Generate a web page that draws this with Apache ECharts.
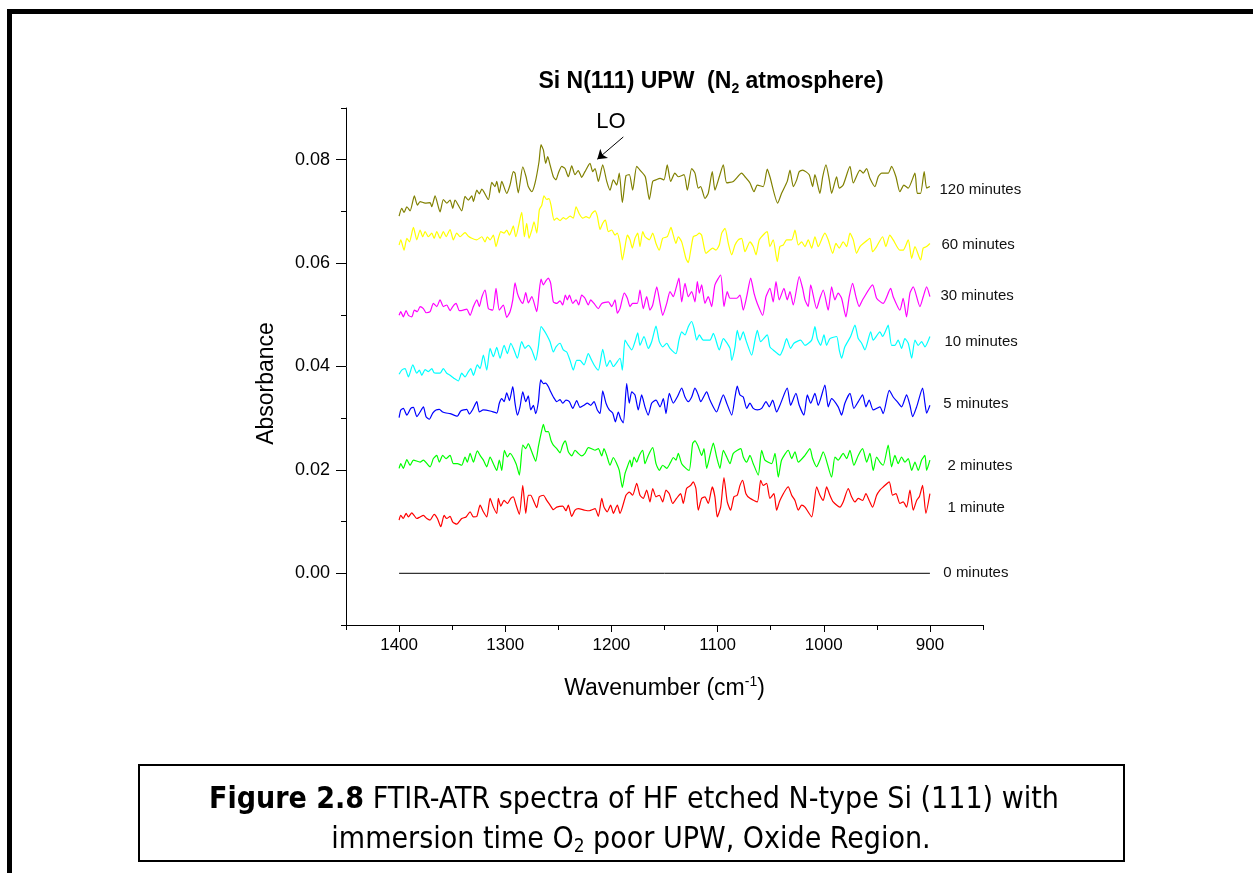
<!DOCTYPE html>
<html>
<head>
<meta charset="utf-8">
<script src="https://cdn.jsdelivr.net/npm/echarts@6/dist/echarts.min.js"></script>
<style>
html,body{margin:0;padding:0;background:#fff;}
#chart{width:1253px;height:873px;}
</style>
</head>
<body>
<div id="chart"></div>
<script>
// ---------- DATA ----------
const seriesNames = ['120 minutes','60 minutes','30 minutes','10 minutes','5 minutes','2 minutes','1 minute','0 minutes'];
const xTickLabels = [900,1000,1100,1200,1300,1400];
const yTickLabels = [0,0.02,0.04,0.06,0.08];

const s120 = [[1400,0.0691],[1397.5,0.0706],[1395.3,0.0698],[1392.7,0.0709],[1389.6,0.0701],[1385.6,0.0730],[1382.8,0.0712],[1380.2,0.0719],[1375.5,0.0716],[1370.8,0.0717],[1369.2,0.0709],[1366.1,0.0730],[1361.4,0.0699],[1358.3,0.0723],[1355.1,0.0716],[1352.0,0.0722],[1349.4,0.0706],[1347.3,0.0722],[1341.0,0.0701],[1337.9,0.0729],[1334.7,0.0722],[1331.5,0.0730],[1330.0,0.0719],[1326.8,0.0741],[1324.4,0.0734],[1322.1,0.0743],[1315.9,0.0723],[1312.7,0.0756],[1309.6,0.0748],[1308.0,0.0758],[1305.6,0.0736],[1303.3,0.0758],[1298.6,0.0735],[1295.5,0.0751],[1292.4,0.0777],[1290.8,0.0774],[1287.7,0.0736],[1283.5,0.0786],[1280.4,0.0767],[1278.3,0.0748],[1275.0,0.0738],[1271.9,0.0755],[1268.2,0.0796],[1266.3,0.0829],[1264.1,0.0819],[1261.9,0.0793],[1260.0,0.0806],[1257.8,0.0790],[1254.7,0.0767],[1252.2,0.0761],[1250.0,0.0774],[1246.8,0.0787],[1243.7,0.0783],[1240.6,0.0767],[1237.4,0.0788],[1234.3,0.0771],[1231.2,0.0779],[1228.0,0.0766],[1224.9,0.0777],[1220.2,0.0793],[1217.6,0.0777],[1215.4,0.0783],[1212.3,0.0758],[1208.2,0.0790],[1204.4,0.0758],[1201.3,0.0741],[1198.2,0.0761],[1195.0,0.0751],[1192.6,0.0774],[1189.7,0.0717],[1186.3,0.0769],[1183.1,0.0771],[1180.0,0.0741],[1176.2,0.0787],[1173.1,0.0780],[1168.1,0.0767],[1164.3,0.0723],[1161.1,0.0758],[1158.0,0.0761],[1154.2,0.0764],[1150.5,0.0761],[1147.4,0.0790],[1144.2,0.0758],[1140.2,0.0774],[1137.0,0.0767],[1131.6,0.0771],[1128.5,0.0741],[1124.4,0.0783],[1121.3,0.0774],[1118.2,0.0745],[1115.9,0.0748],[1111.9,0.0725],[1108.8,0.0735],[1105.0,0.0777],[1102.5,0.0741],[1098.4,0.0767],[1094.6,0.0790],[1091.4,0.0755],[1085.2,0.0758],[1077.3,0.0774],[1074.2,0.0767],[1069.5,0.0755],[1065.7,0.0738],[1062.6,0.0751],[1057.0,0.0748],[1053.2,0.0782],[1050.7,0.0767],[1043.4,0.0716],[1039.7,0.0735],[1034.4,0.0758],[1031.8,0.0780],[1028.7,0.0748],[1025.5,0.0761],[1023.1,0.0777],[1019.9,0.0780],[1013.7,0.0771],[1010.5,0.0748],[1008.3,0.0771],[1003.6,0.0735],[1001.0,0.0767],[997.9,0.0790],[994.8,0.0761],[992.6,0.0735],[987.9,0.0767],[985.4,0.0745],[981.7,0.0751],[975.3,0.0787],[972.2,0.0755],[965.9,0.0780],[962.8,0.0774],[959.6,0.0783],[956.5,0.0764],[951.8,0.0748],[948.7,0.0767],[945.5,0.0774],[939.3,0.0774],[936.1,0.0787],[932.0,0.0767],[928.3,0.0738],[924.5,0.0751],[920.4,0.0745],[914.1,0.0774],[911.9,0.0735],[908.8,0.0735],[905.4,0.0777],[903.1,0.0745],[900,0.0748]];

const s60 = [[1400,0.0635],[1398.4,0.0645],[1395.3,0.0625],[1392.7,0.0648],[1390.3,0.0641],[1386.5,0.0669],[1383.3,0.0645],[1380.2,0.0664],[1377.7,0.0651],[1375.5,0.0661],[1372.4,0.0651],[1369.2,0.0658],[1367.0,0.0648],[1364.5,0.0661],[1361.4,0.0648],[1358.3,0.0661],[1355.7,0.0651],[1352.0,0.0665],[1348.9,0.0645],[1345.7,0.0658],[1342.6,0.0651],[1337.9,0.0659],[1334.7,0.0652],[1331.5,0.0648],[1326.8,0.0645],[1322.1,0.0651],[1319.0,0.0641],[1316.9,0.0651],[1314.3,0.0645],[1311.2,0.0654],[1308.7,0.0632],[1306.5,0.0648],[1304.2,0.0661],[1301.1,0.0658],[1298.6,0.0664],[1296.1,0.0654],[1293.9,0.0664],[1292.4,0.0672],[1290.1,0.0651],[1284.5,0.0698],[1282.0,0.0651],[1279.8,0.0677],[1277.6,0.0648],[1275.0,0.0664],[1272.9,0.0680],[1270.3,0.0658],[1267.9,0.0703],[1265.6,0.0712],[1263.5,0.0730],[1260.9,0.0723],[1258.8,0.0725],[1256.9,0.0712],[1254.0,0.0683],[1251.5,0.0687],[1248.4,0.0682],[1245.3,0.0688],[1242.8,0.0685],[1239.0,0.0691],[1235.9,0.0687],[1233.3,0.0709],[1230.2,0.0695],[1227.0,0.0687],[1223.9,0.0690],[1220.8,0.0687],[1218.6,0.0695],[1215.4,0.0701],[1213.3,0.0691],[1210.7,0.0665],[1208.2,0.0677],[1205.7,0.0683],[1202.9,0.0661],[1199.7,0.0664],[1196.6,0.0654],[1194.5,0.0658],[1191.9,0.0638],[1189.7,0.0606],[1187.2,0.0632],[1185.0,0.0654],[1182.5,0.0645],[1180.3,0.0629],[1177.8,0.0648],[1175.2,0.0658],[1173.1,0.0632],[1170.5,0.0661],[1168.4,0.0651],[1164.3,0.0645],[1161.1,0.0658],[1158.0,0.0638],[1154.9,0.0625],[1151.7,0.0648],[1147.4,0.0651],[1143.9,0.0669],[1141.7,0.0654],[1139.2,0.0638],[1137.0,0.0651],[1133.8,0.0641],[1129.8,0.0609],[1127.6,0.0601],[1125.3,0.0625],[1122.9,0.0651],[1119.7,0.0654],[1117.2,0.0658],[1115.0,0.0654],[1112.8,0.0632],[1110.9,0.0619],[1104.6,0.0629],[1101.5,0.0625],[1098.4,0.0635],[1096.1,0.0658],[1093.0,0.0667],[1089.9,0.0638],[1086.7,0.0616],[1083.6,0.0635],[1080.5,0.0645],[1077.3,0.0648],[1074.2,0.0622],[1069.5,0.0641],[1066.4,0.0632],[1063.8,0.0616],[1060.7,0.0645],[1055.4,0.0658],[1053.2,0.0661],[1050.7,0.0632],[1047.6,0.0645],[1043.8,0.0603],[1041.3,0.0632],[1038.1,0.0635],[1035.0,0.0645],[1030.2,0.0645],[1027.1,0.0664],[1024.0,0.0635],[1020.8,0.0641],[1017.7,0.0632],[1014.6,0.0645],[1011.4,0.0629],[1008.3,0.0651],[1005.2,0.0632],[1001.0,0.0651],[998.9,0.0658],[995.8,0.0645],[991.6,0.0619],[988.5,0.0638],[985.4,0.0629],[981.7,0.0641],[978.4,0.0632],[975.3,0.0658],[972.2,0.0645],[969.1,0.0619],[965.9,0.0632],[962.8,0.0638],[956.5,0.0648],[954.0,0.0622],[950.2,0.0632],[944.6,0.0651],[941.5,0.0632],[937.8,0.0654],[934.6,0.0645],[928.3,0.0625],[925.2,0.0625],[920.4,0.0645],[917.2,0.0609],[914.1,0.0632],[908.8,0.0606],[906.3,0.0629],[903.1,0.0632],[900,0.0638]];

const s30 = [[1400,0.0499],[1398.4,0.0506],[1396.0,0.0496],[1393.4,0.0508],[1391.2,0.0499],[1388.0,0.0496],[1385.6,0.0509],[1382.8,0.0506],[1380.2,0.0516],[1377.1,0.0512],[1374.6,0.0504],[1370.8,0.0506],[1367.7,0.0522],[1364.5,0.0516],[1361.4,0.0529],[1358.3,0.0516],[1355.1,0.0519],[1352.0,0.0508],[1349.4,0.0516],[1346.3,0.0522],[1343.2,0.0508],[1339.5,0.0509],[1336.3,0.0511],[1333.1,0.0499],[1330.0,0.0516],[1326.8,0.0529],[1324.4,0.0516],[1322.1,0.0534],[1319.0,0.0548],[1315.9,0.0512],[1311.8,0.0509],[1308.7,0.0551],[1305.6,0.0509],[1301.8,0.0519],[1298.6,0.0495],[1295.5,0.0506],[1292.9,0.0529],[1290.8,0.0562],[1288.6,0.0542],[1286.1,0.0529],[1283.5,0.0522],[1280.7,0.0543],[1278.3,0.0523],[1275.0,0.0535],[1270.3,0.0506],[1268.2,0.0542],[1266.3,0.0569],[1264.1,0.0558],[1261.6,0.0566],[1259.4,0.0571],[1257.2,0.0561],[1254.7,0.0525],[1251.5,0.0522],[1248.4,0.0527],[1245.9,0.0519],[1243.4,0.0538],[1241.5,0.0529],[1239.6,0.0538],[1236.4,0.0522],[1233.3,0.0529],[1230.8,0.0519],[1228.0,0.0538],[1224.9,0.0532],[1221.8,0.0519],[1219.5,0.0529],[1216.4,0.0522],[1212.3,0.0512],[1209.1,0.0522],[1202.9,0.0525],[1199.7,0.0516],[1196.6,0.0529],[1194.4,0.0503],[1191.9,0.0512],[1187.9,0.0542],[1185.0,0.0532],[1182.5,0.0516],[1180.0,0.0522],[1175.6,0.0522],[1173.1,0.0548],[1170.0,0.0512],[1166.8,0.0535],[1163.7,0.0509],[1161.1,0.0519],[1157.3,0.0554],[1154.2,0.0522],[1151.7,0.0499],[1147.9,0.0522],[1144.8,0.0545],[1141.7,0.0535],[1139.2,0.0551],[1136.4,0.0571],[1133.8,0.0525],[1130.7,0.0561],[1127.6,0.0535],[1124.4,0.0545],[1121.3,0.0525],[1119.1,0.0564],[1117.2,0.0542],[1115.0,0.0558],[1111.9,0.0522],[1108.8,0.0535],[1105.6,0.0516],[1102.5,0.0558],[1097.1,0.0577],[1094.0,0.0516],[1090.9,0.0545],[1088.3,0.0532],[1082.0,0.0532],[1078.9,0.0538],[1075.8,0.0509],[1072.6,0.0535],[1068.8,0.0571],[1065.7,0.0542],[1062.6,0.0522],[1057.5,0.0499],[1054.4,0.0535],[1050.7,0.0551],[1047.6,0.0525],[1045.0,0.0564],[1041.9,0.0529],[1037.5,0.0551],[1034.4,0.0529],[1031.8,0.0545],[1028.7,0.0519],[1023.1,0.0574],[1019.9,0.0551],[1017.7,0.0529],[1014.6,0.0516],[1012.3,0.0558],[1006.7,0.0512],[1003.6,0.0532],[1000.5,0.0548],[995.8,0.0509],[992.6,0.0554],[989.5,0.0529],[986.4,0.0542],[983.2,0.0532],[979.1,0.0496],[976.0,0.0535],[972.8,0.0561],[969.7,0.0535],[966.6,0.0516],[963.4,0.0529],[954.0,0.0558],[950.2,0.0532],[944.0,0.0522],[937.0,0.0551],[934.6,0.0535],[928.3,0.0509],[925.2,0.0532],[922.0,0.0496],[918.8,0.0542],[915.7,0.0554],[909.4,0.0516],[906.3,0.0535],[903.1,0.0554],[900,0.0535]];

const s10 = [[1400,0.0385],[1397.5,0.0393],[1394.4,0.0396],[1391.2,0.0380],[1387.1,0.0403],[1383.3,0.0387],[1380.9,0.0393],[1378.6,0.0383],[1375.5,0.0394],[1372.4,0.0390],[1369.2,0.0396],[1367.0,0.0388],[1361.4,0.0387],[1358.3,0.0396],[1355.1,0.0387],[1352.0,0.0383],[1348.2,0.0377],[1344.2,0.0372],[1341.0,0.0387],[1337.9,0.0380],[1334.7,0.0390],[1332.5,0.0396],[1330.0,0.0383],[1326.3,0.0403],[1323.7,0.0396],[1320.6,0.0422],[1317.4,0.0393],[1314.3,0.0435],[1311.2,0.0419],[1308.0,0.0437],[1304.9,0.0416],[1301.1,0.0441],[1298.0,0.0425],[1294.8,0.0445],[1291.7,0.0432],[1288.6,0.0416],[1284.5,0.0448],[1281.4,0.0435],[1278.3,0.0441],[1275.0,0.0432],[1271.3,0.0412],[1268.8,0.0438],[1266.3,0.0477],[1263.5,0.0470],[1260.9,0.0461],[1257.8,0.0448],[1254.7,0.0428],[1252.2,0.0438],[1248.4,0.0445],[1245.3,0.0432],[1242.1,0.0428],[1239.0,0.0412],[1235.9,0.0393],[1232.7,0.0412],[1229.6,0.0412],[1225.8,0.0403],[1221.8,0.0425],[1218.6,0.0412],[1215.4,0.0400],[1212.3,0.0393],[1208.2,0.0433],[1204.4,0.0400],[1201.3,0.0412],[1198.2,0.0400],[1191.9,0.0416],[1189.7,0.0393],[1187.2,0.0451],[1184.1,0.0441],[1180.9,0.0432],[1177.8,0.0448],[1175.2,0.0465],[1173.1,0.0441],[1169.3,0.0458],[1165.3,0.0435],[1162.1,0.0448],[1158.0,0.0478],[1154.9,0.0448],[1151.7,0.0438],[1147.9,0.0445],[1144.8,0.0435],[1139.2,0.0425],[1136.4,0.0451],[1133.8,0.0467],[1130.7,0.0461],[1127.6,0.0477],[1124.4,0.0487],[1122.2,0.0474],[1119.7,0.0451],[1117.2,0.0461],[1113.5,0.0451],[1107.2,0.0451],[1104.0,0.0464],[1098.4,0.0432],[1094.6,0.0454],[1088.3,0.0435],[1086.7,0.0412],[1083.6,0.0438],[1081.5,0.0470],[1078.9,0.0451],[1075.8,0.0467],[1073.3,0.0451],[1067.9,0.0422],[1064.8,0.0451],[1062.6,0.0470],[1059.4,0.0448],[1053.2,0.0461],[1050.7,0.0438],[1047.6,0.0432],[1041.3,0.0422],[1038.1,0.0435],[1035.0,0.0454],[1031.2,0.0435],[1028.1,0.0445],[1021.8,0.0451],[1017.7,0.0441],[1011.4,0.0451],[1008.3,0.0477],[1006.1,0.0454],[1002.9,0.0441],[999.8,0.0461],[997.3,0.0441],[994.2,0.0454],[987.9,0.0458],[985.4,0.0432],[983.2,0.0416],[980.1,0.0438],[974.7,0.0458],[970.6,0.0480],[967.5,0.0454],[964.3,0.0445],[961.2,0.0432],[955.8,0.0467],[953.4,0.0451],[947.1,0.0467],[944.6,0.0458],[941.5,0.0470],[939.3,0.0480],[936.1,0.0441],[933.0,0.0441],[929.9,0.0451],[926.7,0.0435],[923.6,0.0454],[920.4,0.0445],[917.2,0.0416],[914.1,0.0451],[911.0,0.0441],[907.8,0.0448],[904.7,0.0438],[900,0.0458]];

const s5 = [[1400,0.0301],[1398.4,0.0316],[1396.0,0.0319],[1392.7,0.0306],[1389.0,0.0319],[1386.5,0.0321],[1383.3,0.0303],[1380.2,0.0312],[1377.1,0.0322],[1374.6,0.0303],[1371.5,0.0298],[1368.3,0.0310],[1365.2,0.0316],[1362.1,0.0317],[1358.9,0.0312],[1355.7,0.0310],[1352.0,0.0309],[1345.1,0.0304],[1341.9,0.0314],[1336.3,0.0317],[1333.8,0.0308],[1330.6,0.0317],[1326.8,0.0332],[1324.4,0.0312],[1320.6,0.0316],[1314.3,0.0314],[1308.0,0.0310],[1305.6,0.0329],[1303.3,0.0338],[1301.1,0.0332],[1298.6,0.0349],[1296.1,0.0334],[1292.9,0.0361],[1290.8,0.0329],[1288.6,0.0306],[1286.1,0.0322],[1283.5,0.0351],[1280.7,0.0332],[1278.3,0.0343],[1276.0,0.0316],[1273.5,0.0325],[1271.3,0.0309],[1268.8,0.0332],[1266.6,0.0374],[1264.1,0.0367],[1261.9,0.0368],[1259.4,0.0361],[1257.2,0.0351],[1254.7,0.0341],[1251.5,0.0332],[1248.4,0.0336],[1245.9,0.0329],[1242.8,0.0335],[1239.6,0.0332],[1236.4,0.0319],[1232.7,0.0334],[1229.6,0.0321],[1225.8,0.0325],[1222.7,0.0329],[1219.5,0.0325],[1216.4,0.0332],[1213.3,0.0316],[1210.7,0.0309],[1208.2,0.0353],[1205.1,0.0329],[1202.0,0.0316],[1198.8,0.0310],[1196.3,0.0293],[1193.5,0.0312],[1191.3,0.0299],[1188.8,0.0291],[1185.6,0.0367],[1183.2,0.0329],[1180.9,0.0351],[1177.8,0.0345],[1174.7,0.0316],[1171.5,0.0345],[1168.4,0.0322],[1165.3,0.0306],[1162.1,0.0329],[1158.0,0.0335],[1154.2,0.0322],[1151.1,0.0338],[1148.6,0.0309],[1145.5,0.0348],[1141.7,0.0329],[1138.0,0.0341],[1133.8,0.0358],[1130.7,0.0341],[1127.6,0.0332],[1124.4,0.0341],[1121.3,0.0358],[1118.2,0.0345],[1115.9,0.0332],[1110.3,0.0351],[1107.2,0.0335],[1100.9,0.0312],[1097.8,0.0329],[1094.6,0.0345],[1091.4,0.0329],[1086.7,0.0306],[1083.6,0.0341],[1081.5,0.0362],[1078.9,0.0345],[1075.8,0.0341],[1072.6,0.0319],[1069.5,0.0329],[1066.4,0.0319],[1062.6,0.0316],[1058.5,0.0319],[1054.4,0.0332],[1051.3,0.0322],[1048.1,0.0335],[1044.4,0.0312],[1041.3,0.0325],[1034.4,0.0358],[1031.2,0.0325],[1026.2,0.0348],[1023.1,0.0325],[1018.7,0.0306],[1015.5,0.0345],[1012.3,0.0329],[1008.3,0.0348],[1005.2,0.0325],[998.9,0.0364],[995.8,0.0322],[992.6,0.0338],[986.4,0.0322],[983.2,0.0306],[980.1,0.0329],[975.3,0.0348],[971.6,0.0319],[967.5,0.0332],[963.4,0.0345],[960.3,0.0322],[957.2,0.0335],[953.4,0.0316],[947.1,0.0322],[944.0,0.0309],[938.3,0.0354],[934.6,0.0341],[930.8,0.0332],[926.7,0.0322],[922.0,0.0345],[918.8,0.0325],[916.3,0.0303],[912.5,0.0322],[906.9,0.0358],[904.7,0.0329],[903.1,0.0310],[900,0.0325]];

const s2 = [[1400,0.0203],[1398.4,0.0212],[1396.0,0.0203],[1392.7,0.0220],[1389.6,0.0209],[1386.5,0.0219],[1380.2,0.0215],[1377.1,0.0219],[1370.8,0.0206],[1367.7,0.0222],[1364.5,0.0228],[1362.1,0.0215],[1358.9,0.0228],[1355.7,0.0222],[1352.0,0.0228],[1348.9,0.0212],[1345.1,0.0212],[1341.0,0.0209],[1337.9,0.0225],[1335.7,0.0215],[1333.1,0.0232],[1330.0,0.0215],[1326.3,0.0237],[1323.7,0.0228],[1320.6,0.0219],[1317.4,0.0206],[1314.3,0.0225],[1311.2,0.0212],[1308.0,0.0199],[1305.6,0.0219],[1303.3,0.0199],[1300.8,0.0238],[1298.0,0.0225],[1295.5,0.0232],[1289.8,0.0212],[1286.7,0.0190],[1283.5,0.0248],[1280.7,0.0241],[1278.3,0.0251],[1275.0,0.0235],[1271.3,0.0217],[1268.8,0.0245],[1266.3,0.0270],[1264.1,0.0288],[1261.9,0.0274],[1259.4,0.0274],[1256.9,0.0257],[1254.7,0.0248],[1251.5,0.0241],[1248.4,0.0233],[1245.9,0.0248],[1243.4,0.0256],[1240.6,0.0235],[1237.4,0.0227],[1234.3,0.0238],[1231.2,0.0232],[1228.0,0.0227],[1224.9,0.0232],[1221.8,0.0243],[1218.6,0.0241],[1215.4,0.0238],[1212.3,0.0241],[1209.1,0.0227],[1207.0,0.0241],[1204.4,0.0228],[1201.3,0.0209],[1198.2,0.0224],[1195.0,0.0212],[1192.6,0.0199],[1189.7,0.0166],[1187.2,0.0193],[1185.0,0.0206],[1182.5,0.0219],[1180.9,0.0206],[1178.7,0.0225],[1176.2,0.0215],[1173.7,0.0228],[1170.5,0.0238],[1168.4,0.0212],[1165.3,0.0228],[1161.1,0.0243],[1158.0,0.0212],[1154.9,0.0199],[1151.7,0.0209],[1147.9,0.0203],[1144.2,0.0215],[1141.7,0.0224],[1139.2,0.0219],[1137.0,0.0232],[1133.8,0.0212],[1129.8,0.0203],[1126.7,0.0199],[1123.5,0.0251],[1121.3,0.0256],[1118.2,0.0245],[1115.0,0.0228],[1112.8,0.0241],[1110.3,0.0203],[1107.2,0.0228],[1104.0,0.0252],[1100.9,0.0225],[1097.8,0.0203],[1094.6,0.0238],[1091.4,0.0225],[1088.3,0.0212],[1085.2,0.0232],[1078.2,0.0241],[1075.8,0.0225],[1072.6,0.0215],[1069.5,0.0228],[1066.4,0.0212],[1061.7,0.0190],[1058.5,0.0238],[1055.4,0.0219],[1049.1,0.0212],[1045.9,0.0232],[1042.8,0.0186],[1039.7,0.0219],[1033.4,0.0238],[1030.2,0.0222],[1027.1,0.0235],[1024.0,0.0215],[1017.7,0.0228],[1013.0,0.0241],[1010.5,0.0222],[1006.7,0.0206],[1003.6,0.0219],[1000.5,0.0235],[992.6,0.0186],[989.5,0.0225],[986.4,0.0219],[981.7,0.0232],[978.4,0.0222],[975.3,0.0238],[971.6,0.0209],[967.5,0.0228],[963.4,0.0241],[959.6,0.0215],[956.5,0.0232],[953.4,0.0199],[950.2,0.0225],[947.1,0.0215],[944.0,0.0209],[939.3,0.0248],[936.1,0.0206],[933.0,0.0228],[929.9,0.0212],[926.7,0.0225],[923.6,0.0215],[920.4,0.0222],[917.2,0.0199],[914.1,0.0215],[911.0,0.0199],[907.8,0.0219],[904.7,0.0228],[903.1,0.0199],[900,0.0219]];

const s1 = [[1400,0.0103],[1398.4,0.0112],[1396.0,0.0106],[1393.4,0.0116],[1391.2,0.0109],[1388.0,0.0117],[1385.9,0.0112],[1383.3,0.0106],[1380.2,0.0109],[1377.1,0.0112],[1373.9,0.0106],[1370.8,0.0103],[1367.0,0.0114],[1363.9,0.0106],[1360.7,0.0090],[1357.6,0.0112],[1355.1,0.0106],[1352.0,0.0110],[1349.4,0.0099],[1345.7,0.0095],[1341.0,0.0106],[1336.9,0.0109],[1333.1,0.0119],[1330.0,0.0109],[1326.8,0.0110],[1323.7,0.0132],[1320.6,0.0119],[1317.4,0.0109],[1314.3,0.0145],[1311.2,0.0128],[1308.0,0.0116],[1306.5,0.0145],[1304.2,0.0130],[1301.1,0.0141],[1298.0,0.0135],[1294.8,0.0145],[1292.4,0.0148],[1289.8,0.0132],[1286.7,0.0114],[1283.5,0.0170],[1280.7,0.0116],[1278.3,0.0151],[1276.0,0.0151],[1273.5,0.0141],[1270.3,0.0127],[1267.9,0.0148],[1264.1,0.0151],[1260.9,0.0141],[1257.8,0.0132],[1254.7,0.0123],[1251.5,0.0128],[1245.9,0.0130],[1242.8,0.0121],[1240.6,0.0132],[1237.4,0.0110],[1234.3,0.0122],[1231.2,0.0125],[1224.9,0.0122],[1220.8,0.0121],[1215.4,0.0125],[1212.3,0.0110],[1209.1,0.0145],[1207.0,0.0128],[1203.9,0.0119],[1200.7,0.0132],[1198.2,0.0116],[1194.4,0.0132],[1191.9,0.0116],[1186.3,0.0151],[1183.1,0.0157],[1180.0,0.0151],[1176.2,0.0174],[1173.1,0.0151],[1170.0,0.0145],[1166.8,0.0161],[1163.7,0.0138],[1161.1,0.0164],[1158.0,0.0148],[1154.9,0.0151],[1151.7,0.0138],[1148.6,0.0161],[1145.5,0.0154],[1142.3,0.0135],[1138.6,0.0145],[1134.8,0.0154],[1132.3,0.0135],[1129.2,0.0164],[1125.3,0.0170],[1122.9,0.0177],[1120.4,0.0164],[1118.2,0.0122],[1115.0,0.0145],[1111.9,0.0148],[1108.8,0.0135],[1105.0,0.0167],[1102.5,0.0148],[1100.3,0.0109],[1097.1,0.0128],[1094.0,0.0185],[1090.9,0.0138],[1087.7,0.0122],[1084.6,0.0148],[1081.5,0.0151],[1078.9,0.0170],[1076.4,0.0180],[1073.3,0.0154],[1069.5,0.0145],[1062.6,0.0138],[1059.4,0.0180],[1057.0,0.0170],[1053.8,0.0174],[1050.7,0.0145],[1046.9,0.0154],[1044.4,0.0122],[1041.3,0.0141],[1033.4,0.0167],[1030.2,0.0151],[1027.1,0.0141],[1024.0,0.0122],[1020.8,0.0132],[1017.7,0.0128],[1011.4,0.0109],[1006.7,0.0167],[1003.6,0.0151],[1000.5,0.0141],[997.3,0.0167],[994.2,0.0151],[991.1,0.0138],[984.8,0.0128],[981.7,0.0138],[976.9,0.0164],[973.8,0.0148],[970.6,0.0138],[967.5,0.0145],[963.4,0.0141],[960.3,0.0154],[957.2,0.0141],[954.0,0.0128],[950.2,0.0151],[947.1,0.0161],[944.0,0.0167],[938.3,0.0177],[935.2,0.0151],[932.0,0.0154],[928.3,0.0135],[925.2,0.0138],[922.0,0.0128],[918.8,0.0161],[915.7,0.0122],[912.5,0.0141],[910.0,0.0148],[906.9,0.0170],[903.8,0.0116],[900,0.0154]];

const s0 = [[1400,0],[900,0]];

// label anchors (data space) for the series names and the LO annotation
const nameAnchors = [[891.5,0.0742],[889.6,0.0635],[890.6,0.0536],[886.8,0.0447],[887.8,0.0327],[884.0,0.0207],[884.0,0.0126],[887.8,0]];
const loText = [1200.4,0.0873];
const loArrow = [[1188.8,0.0844],[1213.3,0.0801]];

// ---------- CHART ----------
const FONT = '"Liberation Sans", Arial, sans-serif';
const CAPFONT = '"DejaVu Sans Condensed","DejaVu Sans",sans-serif';
const colors = ['#808000','#FFFF00','#FF00FF','#00FFFF','#0000FF','#00FF00','#FF0000','#000000'];
const allData = [s120,s60,s30,s10,s5,s2,s1,s0];

const chart = echarts.init(document.getElementById('chart'), null, {renderer:'canvas'});

const series = allData.map((d,i)=>{
  const mpData = [{
    coord: nameAnchors[i],
    label:{show:true, formatter: seriesNames[i], position:'right', distance:0,
      color:'#111', fontSize:15, fontFamily:FONT}
  }];
  const s = {
    type:'line', name: seriesNames[i], data:d, xAxisIndex:0, yAxisIndex:0,
    showSymbol:false, symbol:'none', smooth:0.2,
    lineStyle:{color:colors[i], width:1.2}, itemStyle:{color:colors[i]},
    emphasis:{disabled:true}, silent:true, z: 2,
    markPoint:{symbol:'circle', symbolSize:1, itemStyle:{color:'rgba(0,0,0,0)'}, silent:true, data:mpData}
  };
  if(i===7){
    s.smooth = false;
    s.lineStyle.width = 1;
    mpData.push({coord: loText, label:{show:true, formatter:'LO', position:'inside', color:'#000', fontSize:22, fontFamily:FONT}});
    s.markLine = {
      silent:true, symbol:['none','arrow'], symbolSize:9, animation:false,
      label:{show:false}, lineStyle:{color:'#000', width:1, type:'solid'},
      emphasis:{disabled:true},
      data:[[{coord:loArrow[0]},{coord:loArrow[1]}]]
    };
  }
  return s;
});

const axisCommonY = {type:'value', min:-0.01, max:0.09, interval:0.01, position:'left', splitLine:{show:false}};
const axisCommonX = {type:'value', min:850, max:1450, interval:50, inverse:true, position:'bottom', splitLine:{show:false}};

const option = {
  animation:false,
  backgroundColor:'#fff',
  title:{
    text:'Si N(111) UPW  (N{sub|2} atmosphere)',
    left:706, top:63, textAlign:'center',
    textStyle:{fontFamily:FONT, fontWeight:'bold', fontSize:23, color:'#000', lineHeight:28,
      rich:{sub:{fontFamily:FONT, fontWeight:'bold', fontSize:14, lineHeight:14, verticalAlign:'bottom', color:'#000'}}}
  },
  grid:{left:346, right:270, top:108, bottom:248, containLabel:false, outerBoundsMode:'none'},
  xAxis:[
    Object.assign({}, axisCommonX, {
      axisLine:{show:true, onZero:false, lineStyle:{color:'#000', width:1}},
      axisTick:{show:true, length:5, lineStyle:{color:'#000'}},
      axisLabel:{show:false}
    }),
    Object.assign({}, axisCommonX, {
      axisLine:{show:false, onZero:false},
      axisTick:{show:true, length:7, lineStyle:{color:'#000'}, customValues: xTickLabels},
      axisLabel:{show:true, customValues: xTickLabels, color:'#000', fontSize:17, fontFamily:FONT, margin:12,
        formatter:(v)=>String(v)},
      name:'Wavenumber (cm{sup|-1})', nameLocation:'middle', nameGap:50,
      nameTextStyle:{fontFamily:FONT, fontSize:23, color:'#000', lineHeight:28,
        rich:{sup:{fontFamily:FONT, fontSize:14, lineHeight:14, verticalAlign:'top', color:'#000'}}}
    })
  ],
  yAxis:[
    Object.assign({}, axisCommonY, {
      axisLine:{show:true, onZero:false, lineStyle:{color:'#000', width:1}},
      axisTick:{show:true, length:5, lineStyle:{color:'#000'}},
      axisLabel:{show:false}
    }),
    Object.assign({}, axisCommonY, {
      axisLine:{show:false, onZero:false},
      axisTick:{show:true, length:10, lineStyle:{color:'#000'}, customValues: yTickLabels},
      axisLabel:{show:true, customValues: yTickLabels, color:'#000', fontSize:18, fontFamily:FONT, margin:16,
        formatter:(v)=>v.toFixed(2)},
      name:'Absorbance', nameLocation:'middle', nameGap:68, nameRotate:90,
      nameTextStyle:{fontFamily:FONT, fontSize:23, color:'#000', padding:[0,34,0,0]}
    })
  ],
  series: series,
  graphic:[
    {type:'rect', shape:{x:7,y:9,width:1246,height:5}, style:{fill:'#000'}, silent:true},
    {type:'rect', shape:{x:7,y:9,width:5,height:864}, style:{fill:'#000'}, silent:true},
    {type:'rect', shape:{x:139,y:765,width:985,height:96}, style:{fill:'#fff', stroke:'#000', lineWidth:2}, silent:true},
    {type:'text', x:634, y:800, silent:true, style:{
      text:'{b|Figure 2.8} FTIR-ATR spectra of HF etched N-type Si (111) with',
      align:'center', verticalAlign:'middle', fontFamily:CAPFONT, fontSize:30, fill:'#000',
      rich:{b:{fontFamily:CAPFONT, fontWeight:'bold', fontSize:30, fill:'#000'}}
    }},
    {type:'text', x:631, y:840, silent:true, style:{
      text:'immersion time O{sub|2} poor UPW, Oxide Region.',
      align:'center', verticalAlign:'middle', fontFamily:CAPFONT, fontSize:30, fill:'#000', lineHeight:34,
      rich:{sub:{fontFamily:CAPFONT, fontSize:19, lineHeight:19, verticalAlign:'bottom', fill:'#000'}}
    }}
  ]
};
chart.setOption(option);
</script>
</body>
</html>
